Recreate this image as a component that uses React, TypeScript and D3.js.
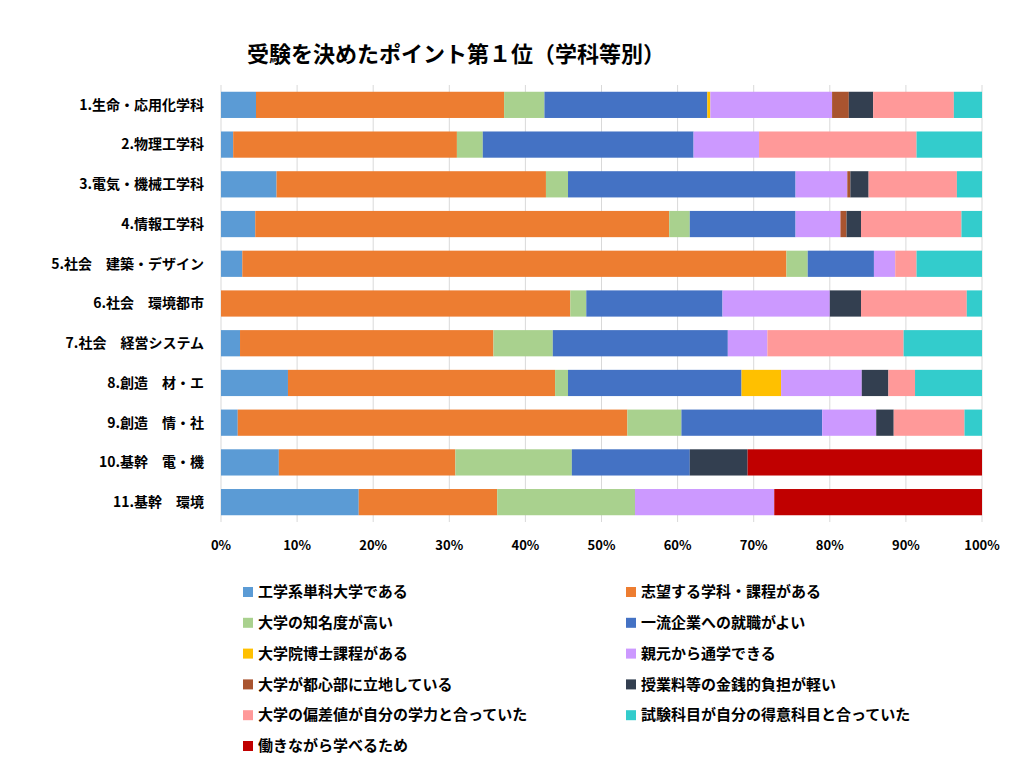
import React, { useEffect, useRef } from 'react';
import * as d3 from 'd3';

const categories = [
  '1.生命・応用化学科', '2.物理工学科', '3.電気・機械工学科', '4.情報工学科',
  '5.社会　建築・デザイン', '6.社会　環境都市', '7.社会　経営システム',
  '8.創造　材・エ', '9.創造　情・社', '10.基幹　電・機', '11.基幹　環境',
];
const seriesNames = [
  '工学系単科大学である', '志望する学科・課程がある', '大学の知名度が高い', '一流企業への就職がよい',
  '大学院博士課程がある', '親元から通学できる', '大学が都心部に立地している', '授業料等の金銭的負担が軽い',
  '大学の偏差値が自分の学力と合っていた', '試験科目が自分の得意科目と合っていた', '働きながら学べるため',
];
const colors = ['#5b9bd5', '#ed7d31', '#a9d18e', '#4472c4', '#ffc000', '#cc99ff', '#a9542f', '#333f50', '#ff9999', '#33cccc', '#c00000'];
// rows = categories, columns = series (%)
const values: number[][] = [
  [4.6, 32.6, 5.3, 21.4, 0.4, 16.0, 2.2, 3.2, 10.6, 3.7, 0],
  [1.6, 29.4, 3.4, 27.7, 0, 8.6, 0, 0, 20.7, 8.6, 0],
  [7.3, 35.4, 2.9, 29.9, 0, 6.8, 0.4, 2.4, 11.6, 3.3, 0],
  [4.5, 54.4, 2.7, 13.9, 0, 5.9, 0.8, 1.9, 13.2, 2.7, 0],
  [2.8, 71.5, 2.8, 8.7, 0, 2.8, 0, 0, 2.8, 8.6, 0],
  [0, 45.9, 2.1, 17.9, 0, 14.1, 0, 4.1, 13.9, 2.0, 0],
  [2.5, 33.3, 7.8, 23.0, 0, 5.2, 0, 0, 17.9, 10.3, 0],
  [8.8, 35.1, 1.7, 22.8, 5.2, 10.6, 0, 3.5, 3.5, 8.8, 0],
  [2.2, 51.2, 7.1, 18.5, 0, 7.1, 0, 2.3, 9.3, 2.3, 0],
  [7.6, 23.2, 15.3, 15.5, 0, 0, 0, 7.6, 0, 0, 30.8],
  [18.1, 18.2, 18.1, 0, 0, 18.3, 0, 0, 0, 0, 27.3],
];
const xTicks = [0, 10, 20, 30, 40, 50, 60, 70, 80, 90, 100];

export default function App() {
  const ref = useRef<SVGSVGElement>(null);
  useEffect(() => {
    const svg = d3.select(ref.current);
    svg.selectAll('*').remove();
    const font = '"Noto Sans CJK JP", "Noto Sans", sans-serif';
    svg.attr('font-family', font);

    const x = d3.scaleLinear().domain([0, 100]).range([221, 982]);
    const y = d3.scaleBand().domain(categories).range([85, 522]).paddingInner(0.34).paddingOuter(0.17);

    svg.append('text').attr('x', 456).attr('y', 62).attr('text-anchor', 'middle')
      .attr('font-size', 22).attr('font-weight', 'bold').attr('fill', '#000')
      .text('受験を決めたポイント第１位（学科等別）');

    svg.append('g').selectAll('line').data(xTicks).enter().append('line')
      .attr('x1', d => x(d)).attr('x2', d => x(d)).attr('y1', 85).attr('y2', 522)
      .attr('stroke', '#d9d9d9').attr('stroke-width', 1);

    const stack = d3.stack<number[]>().keys(seriesNames.map((_, i) => String(i)))
      .value((row, k) => row[+k]);
    const layers = stack(values);
    layers.forEach((layer, si) => {
      svg.append('g').selectAll('rect').data(layer).enter().append('rect')
        .attr('x', d => x(d[0]))
        .attr('y', (_, i) => y(categories[i]) as number)
        .attr('width', d => Math.max(0, x(d[1]) - x(d[0])))
        .attr('height', y.bandwidth())
        .attr('fill', colors[si]);
    });

    svg.append('g').selectAll('text').data(categories).enter().append('text')
      .attr('x', 204).attr('y', d => (y(d) as number) + y.bandwidth() / 2)
      .attr('dy', '0.35em').attr('text-anchor', 'end').attr('font-size', 14).attr('font-weight', 'bold')
      .text(d => d);

    svg.append('g').selectAll('text').data(xTicks).enter().append('text')
      .attr('x', d => x(d)).attr('y', 550).attr('text-anchor', 'middle')
      .attr('font-size', 13).attr('font-weight', 'bold').text(d => d + '%');

    const lg = svg.append('g').selectAll('g').data(seriesNames).enter().append('g')
      .attr('transform', (_, i) => `translate(${i % 2 === 0 ? 243 : 626},${592 + Math.floor(i / 2) * 30.8})`);
    lg.append('rect').attr('x', 0).attr('y', -5).attr('width', 10).attr('height', 10)
      .attr('fill', (_, i) => colors[i]);
    lg.append('text').attr('x', 15).attr('dy', '0.35em').attr('font-size', 15).attr('font-weight', 'bold')
      .text(d => d);
  }, []);
  return <svg ref={ref} width={1024} height={777} style={{ position: 'absolute', left: 0, top: 0 }} />;
}
